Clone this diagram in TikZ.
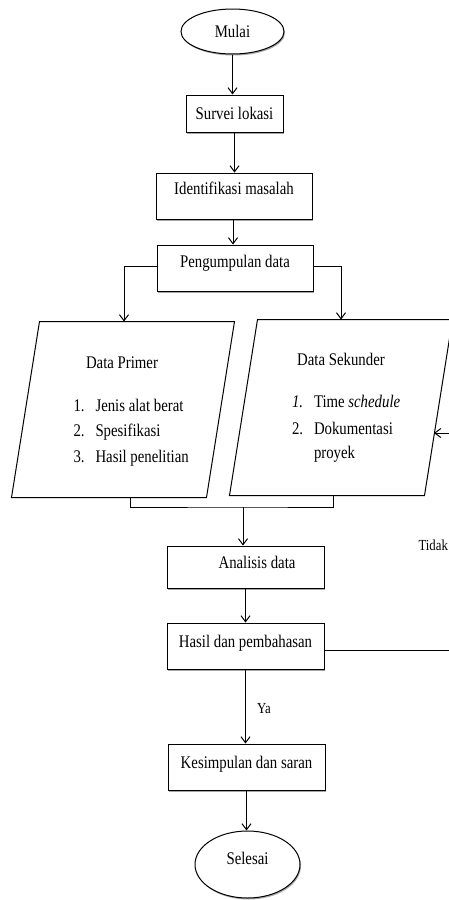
\documentclass[tikz,border=0pt]{standalone}
\usepackage{fontspec}
\usepackage{graphicx}
\setmainfont{Liberation Serif}
\usetikzlibrary{arrows.meta,shapes.geometric,shadows}
\newcommand{\vs}[1]{\scalebox{1}[1.2]{#1}}
\begin{document}
\begin{tikzpicture}[x=1pt,y=-1pt,
  line width=1pt,
  every node/.style={font=\fontsize{14.8}{17}\selectfont, inner sep=0pt},
  arr/.style={-{Straight Barb[length=6pt,width=9pt,line width=1pt]}},
  shad/.style={drop shadow={shadow xshift=1pt, shadow yshift=-1.5pt, opacity=0.35, fill=black}},
  procbox/.style={draw, fill=white, shad, rectangle, text height=12pt},
  termin/.style={draw, fill=white, shad, ellipse, text height=12pt},
  listline/.style={anchor=base west},
  lbl/.style={font=\fontsize{12.8}{15}\selectfont}
]
\useasboundingbox (0,0) rectangle (449,900);

% terminals and process boxes
\node[termin, minimum width=103pt, minimum height=45pt, text depth=0pt] (mulai) at (232.5,31.5) {\vs{Mulai}};
\node[procbox, minimum width=97pt, minimum height=37pt, text depth=0pt] (survei) at (234.5,113.5) {\vs{Survei lokasi}};
\node[procbox, minimum width=156pt, minimum height=46pt, text depth=16pt] (ident) at (234,196) {\vs{Identifikasi masalah}};
\node[procbox, minimum width=156pt, minimum height=46pt, text depth=14pt] (peng) at (235,268) {\vs{Pengumpulan data}};
\node[procbox, minimum width=157pt, minimum height=42pt, text depth=9pt] (ana) at (245.5,567) {\hspace{23pt}\vs{Analisis data}};
\node[procbox, minimum width=157pt, minimum height=46pt, text depth=9.5pt] (hasil) at (245.5,646) {\vs{Hasil dan pembahasan}};
\node[procbox, minimum width=157pt, minimum height=46pt, text depth=10pt] (kes) at (246.5,767) {\vs{Kesimpulan dan saran}};
\node[termin, minimum width=105pt, minimum height=67pt, text depth=13pt] (selesai) at (247.5,864.5) {\vs{Selesai}};

% data parallelograms (frames built on named nodes)
\node[minimum width=194pt, minimum height=175pt] (dp) at (123,409.5) {};
\node[minimum width=194pt, minimum height=175pt] (ds) at (341,407.5) {};
\draw[fill=white] ([xshift=14pt]dp.north west) -- ([xshift=14pt]dp.north east)
  -- ([xshift=-14pt]dp.south east) -- ([xshift=-14pt]dp.south west) -- cycle;
\draw[fill=white] ([xshift=14pt]ds.north west) -- ([xshift=14pt]ds.north east)
  -- ([xshift=-14pt]ds.south east) -- ([xshift=-14pt]ds.south west) -- cycle;

% texts inside Data Primer
\node[anchor=base] (dpt) at (122,368.3) {\vs{Data Primer}};
\node[listline] (dp1) at (73,411) {\makebox[22pt][l]{\vs{1.}}\vs{Jenis alat berat}};
\node[listline] (dp2) at (73,436.5) {\makebox[22pt][l]{\vs{2.}}\vs{Spesifikasi}};
\node[listline] (dp3) at (73,462.5) {\makebox[22pt][l]{\vs{3.}}\vs{Hasil penelitian}};

% texts inside Data Sekunder
\node[anchor=base] (dst) at (341,365) {\vs{Data Sekunder}};
\node[listline] (ds1) at (291.5,407.3) {\makebox[22pt][l]{\vs{\textit{1.}}}\vs{Time \textit{schedule}}};
\node[listline] (ds2) at (291.5,434) {\makebox[22pt][l]{\vs{2.}}\vs{Dokumentasi}};
\node[listline] (ds3) at (313.5,458) {\vs{proyek}};

% labels
\node[lbl, anchor=base west] (ya) at (256.7,713.3) {\vs{Ya}};
\node[lbl, anchor=base west] (tidak) at (418,550.7) {\vs{Tidak}};

% coordinates
\coordinate (merge) at (243,507);
\coordinate (fbbot) at (456,650);
\coordinate (fbtop) at (456,433);
\coordinate (dsin) at (434,433);

% connectors
\draw[arr] (mulai.south) -- (mulai.south |- survei.north);
\draw[arr] (survei.south) -- (survei.south |- ident.north);
\draw[arr] ([xshift=-1pt]ident.south) -- ([xshift=-1pt]ident.south |- peng.north);
\draw[arr] ([yshift=2pt]peng.west) -| ([xshift=1pt]dp.north);
\draw[arr] ([yshift=2pt]peng.east) -| (ds.north);
\draw ([xshift=7pt]dp.south) |- (merge) -| ([xshift=-8pt]ds.south);
\draw[arr] (merge) -- (merge |- ana.north);
\draw[arr] (ana.south) -- (ana.south |- hasil.north);
\draw[arr] (hasil.south) -- (hasil.south |- kes.north);
\draw[arr] (kes.south) -- (kes.south |- selesai.north);
\draw[arr] ([yshift=-4pt]hasil.east) -- ([yshift=-4pt]hasil.east -| fbbot) -- (fbtop) -- (dsin);
\end{tikzpicture}
\end{document}
